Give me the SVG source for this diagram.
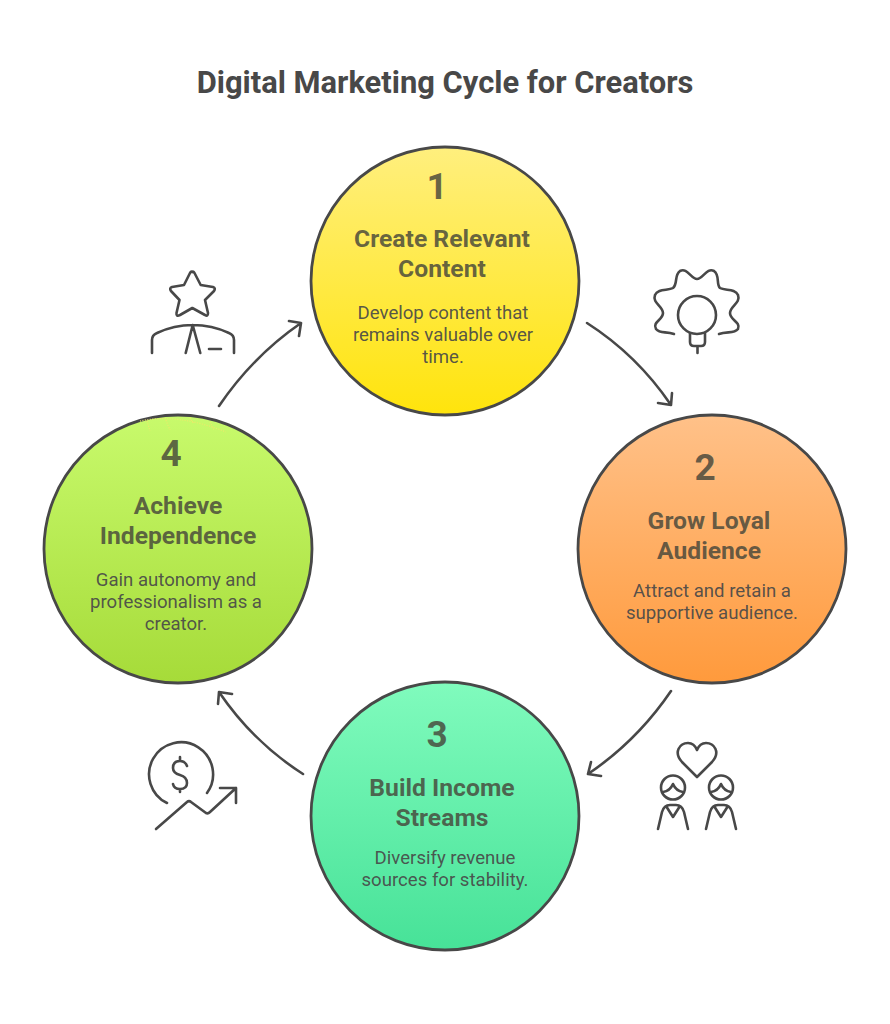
<svg xmlns="http://www.w3.org/2000/svg" width="890" height="1024" viewBox="0 0 890 1024">
<style>
text{font-family:Roboto,"Liberation Sans",sans-serif;text-anchor:middle}
.title{font-size:30.9px;font-weight:700;fill:#484848}
.num{font-size:37px;font-weight:700;fill:#46463a;fill-opacity:.82}
.head{font-size:24.7px;font-weight:700;fill:#46463a;fill-opacity:.82}
.body{font-size:18.6px;font-weight:400;fill:#484848;fill-opacity:.92}
.ring{stroke:#484848;stroke-width:2.800}
.ln{fill:none;stroke:#484848;stroke-width:2.600;stroke-linecap:round;stroke-linejoin:round}
.sp{fill:none;stroke:#efe86a;stroke-width:1.2;stroke-dasharray:1 1.5}
</style>
<defs>
<linearGradient id="g1" x1="0" y1="0" x2="0" y2="1"><stop offset="0" stop-color="#ffef7e"/><stop offset="1" stop-color="#ffe40c"/></linearGradient>
<linearGradient id="g2" x1="0" y1="0" x2="0" y2="1"><stop offset="0" stop-color="#ffc189"/><stop offset="1" stop-color="#ff9a3c"/></linearGradient>
<linearGradient id="g3" x1="0" y1="0" x2="0" y2="1"><stop offset="0" stop-color="#80fbbd"/><stop offset="1" stop-color="#47e298"/></linearGradient>
<linearGradient id="g4" x1="0" y1="0" x2="0" y2="1"><stop offset="0" stop-color="#c8fa6c"/><stop offset="1" stop-color="#a6db39"/></linearGradient>
</defs>
<rect width="890" height="1024" fill="#fff"/>
<text class="title" x="445" y="92.500">Digital Marketing Cycle for Creators</text>
<g id="connectors">
<path class="ln" d="M587,323 Q637,355 671,405 M658,403 L671,405 L672,393"/>
<path class="ln" d="M671,691 Q637,741 588,774 M591,762 L588,774 L601,776"/>
<path class="ln" d="M303,774 Q253,742 219,692 M232,694 L219,692 L218,704"/>
<path class="ln" d="M219,406 Q253,356 301,323 M289,321 L301,323 L299,336"/>
</g>
<g id="node-1">
<circle class="ring" cx="445" cy="281" r="134" fill="url(#g1)"/>
<text class="num" x="437" y="198.500">1</text>
<text class="head" x="442" y="247">Create Relevant</text>
<text class="head" x="442" y="276.500">Content</text>
<text class="body" x="443" y="318.500">Develop content that</text>
<text class="body" x="443" y="340.500">remains valuable over</text>
<text class="body" x="443" y="362.500">time.</text>
</g>
<g id="node-2">
<circle class="ring" cx="712" cy="549" r="134" fill="url(#g2)"/>
<text class="num" x="705" y="479.500">2</text>
<text class="head" x="709" y="529">Grow Loyal</text>
<text class="head" x="709" y="558.500">Audience</text>
<text class="body" x="712" y="596.500">Attract and retain a</text>
<text class="body" x="712" y="618.500">supportive audience.</text>
</g>
<g id="node-3">
<circle class="ring" cx="445" cy="816" r="134" fill="url(#g3)"/>
<text class="num" x="437" y="746.500">3</text>
<text class="head" x="442" y="796">Build Income</text>
<text class="head" x="442" y="825.500">Streams</text>
<text class="body" x="445" y="863.500">Diversify revenue</text>
<text class="body" x="445" y="885.500">sources for stability.</text>
</g>
<g id="node-4">
<circle class="ring" cx="178" cy="549" r="134" fill="url(#g4)"/>
<path class="sp" d="M140,421 Q178,413 226,432 M147,421 L150,431 M165,418 L170,430 M190,418 L194,424 M210,422 L214,430"/>
<text class="num" x="171" y="465.500">4</text>
<text class="head" x="178" y="514">Achieve</text>
<text class="head" x="178" y="543.500">Independence</text>
<text class="body" x="176" y="585.500">Gain autonomy and</text>
<text class="body" x="176" y="607.500">professionalism as a</text>
<text class="body" x="176" y="629.500">creator.</text>
</g>
<g id="icon-leader">
<path class="ln" d="M192.300,272 Q193,271 194.500,273 L200.700,285 L213,287 Q216,288 214,291 L205,300 L208,313 Q208,317 205,315 L192.300,308 L180,315 Q176,317 176.500,313 L179.500,300 L171,291 Q169,288 172,287 L184,285 L190,273 Q191,271 192.300,272Z"/>
<path class="ln" d="M152,353 V340 Q152,335 157,333 Q174,325 192.700,325 Q212,325 229,333 Q234,335 234,340 V353 M192.700,325 L185.700,353 M192.700,325 L200.300,353 M209,349 H221"/>
</g>
<g id="icon-gear">
<path class="ln" d="M674,334 C666,331 660,334 656,329 C652,322 663,320 663,313 C663,306 652,303 655,295 C658,288 668,291 673,288 C678,284 674,275 680,271 C687,267 691,279 697,279 C703,279 707,267 714,271 C720,275 716,284 720,288 C725,291 735,288 738,295 C741,303 730,306 730,313 C730,320 741,322 738,329 C734,334 727,331 719,334"/>
<circle class="ln" cx="697" cy="315" r="19"/>
<path class="ln" d="M690,333 V342 Q690,346 694,346 H701 Q705,346 705,342 V333 M697.500,346 V353"/>
</g>
<g id="icon-couple">
<path class="ln" d="M697,777 L682,762 C673,752 680,743 688,743 C692,743 695,745 697,750 C699,745 702,743 706,743 C714,743 721,752 712,762 Z"/>
<circle class="ln" cx="673" cy="787.500" r="12"/>
<path class="ln" d="M663,792 Q670,791 673,784 Q676,791 683,792"/>
<path class="ln" d="M658,829 L662,812 Q664,805 670,805 H676 Q682,805 684,812 L688,829 M666,806 L673,817 L680,806"/>
<circle class="ln" cx="721" cy="787.500" r="12"/>
<path class="ln" d="M711,792 Q718,791 721,784 Q724,791 731,792"/>
<path class="ln" d="M706,829 L710,812 Q712,805 718,805 H724 Q730,805 732,812 L736,829 M714,806 L721,817 L728,806"/>
</g>
<g id="icon-money">
<path class="ln" d="M167,803 A32,32 0 1 1 207,793"/>
<path class="ln" d="M187,766 Q185,761 180,761 Q173,761 173,768 Q173,773 180,775 Q187,777 187,783 Q187,789 180,789 Q174,789 173,784 M180,757 V761 M180,789 V792"/>
<path class="ln" d="M156,829 L187,802 Q189,800 191,802 L206,813 Q208,814 210,812 L236,788 M220,788 H236 V803"/>
</g>
</svg>
